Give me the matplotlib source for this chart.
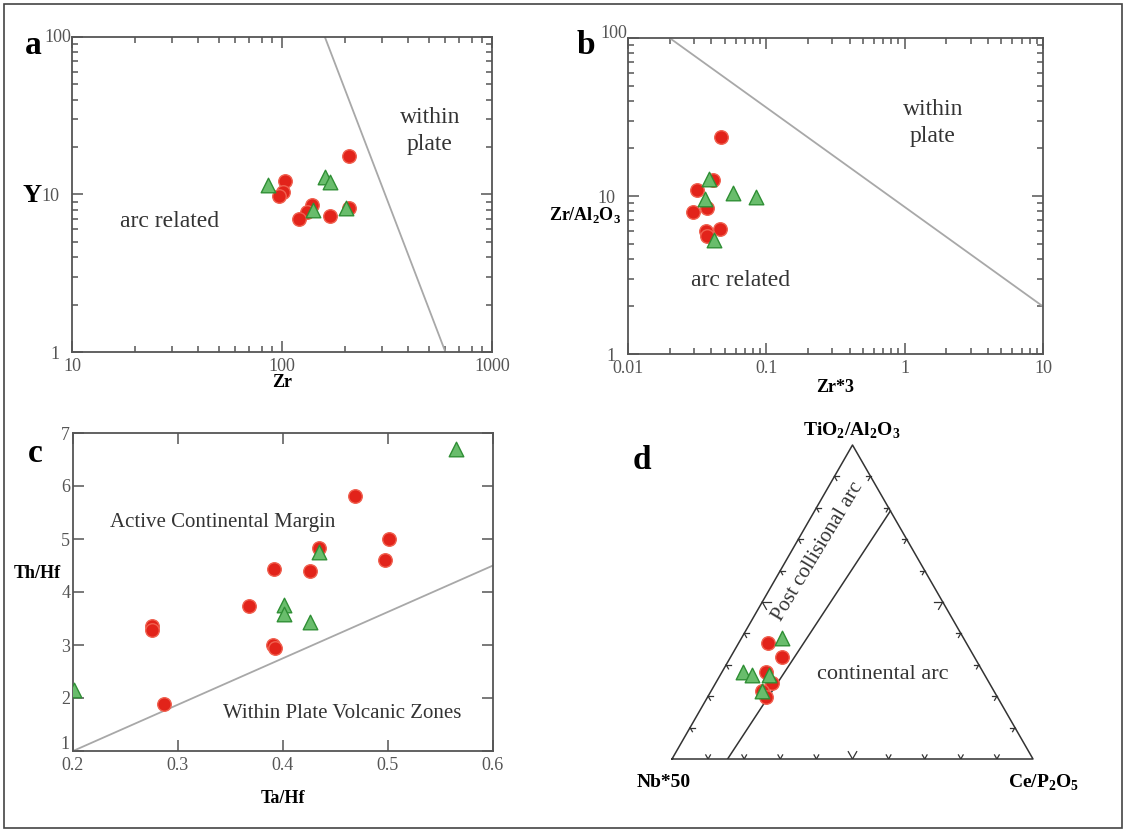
import matplotlib
matplotlib.use('Agg')
import matplotlib.pyplot as plt
import matplotlib.ticker as mticker
import numpy as np

plt.rcParams['font.family'] = 'Liberation Serif'
plt.rcParams['mathtext.fontset'] = 'custom'
plt.rcParams['mathtext.rm'] = 'Liberation Serif'
plt.rcParams['mathtext.bf'] = 'Liberation Serif:bold'

# ---------------- data ----------------
# a: Zr vs Y
a_red_zr = [208, 103, 101, 97, 139, 131, 120, 169, 208]
a_red_y = [17.5, 12.2, 10.4, 9.8, 8.6, 7.7, 7.0, 7.3, 8.2]
a_grn_zr = [86, 160, 169, 141, 201]
a_grn_y = [11.5, 12.9, 12.0, 8.0, 8.2]
a_line_x = [160, 600]
a_line_y = [100, 1]

# b: Zr*3 vs Zr/Al2O3
b_red_x = [0.0468, 0.0414, 0.0314, 0.0297, 0.037, 0.0367, 0.037, 0.0463]
b_red_y = [23.5, 12.6, 10.9, 7.9, 8.4, 6.0, 5.6, 6.2]
b_grn_x = [0.0385, 0.036, 0.0571, 0.0843, 0.0418]
b_grn_y = [12.8, 9.6, 10.4, 9.9, 5.3]
b_line_x = [0.02, 10]
b_line_y = [100, 2]

# c: Ta/Hf vs Th/Hf
c_red_x = [0.4685, 0.501, 0.497, 0.4345, 0.4256, 0.391, 0.368, 0.2757, 0.2757, 0.390, 0.392, 0.2865]
c_red_y = [5.82, 5.0, 4.6, 4.83, 4.4, 4.43, 3.73, 3.35, 3.28, 3.0, 2.95, 1.88]
c_grn_x = [0.5648, 0.2007, 0.401, 0.401, 0.426, 0.4345]
c_grn_y = [6.7, 2.16, 3.75, 3.58, 3.43, 4.75]
c_line_x = [0.2, 0.6]
c_line_y = [1.0, 4.5]

# d: ternary TiO2/Al2O3 (top), Nb*50 (left), Ce/P2O5 (right)
d_red_ti = [0.368, 0.324, 0.276, 0.242, 0.2175, 0.196]
d_red_ce = [0.083, 0.142, 0.1215, 0.157, 0.141, 0.1615]
d_grn_ti = [0.386, 0.276, 0.2687, 0.2687, 0.2153]
d_grn_ce = [0.1126, 0.0596, 0.0864, 0.1343, 0.1425]
d_bound_ti = [0.0, 0.79]
d_bound_ce = [0.154, 0.21]

RED = '#e2231a'
RED_E = '#f0604f'
GRN = '#69bd6c'
GRN_E = '#2f8f35'
FRAME = '#555555'
BLINE = '#a8a8a8'
TICKC = '#555555'

fig = plt.figure(figsize=(11.26, 8.30), dpi=100)


def px(x0, y0, w, h):
    return [x0 / 1126, 1 - (y0 + h) / 830, w / 1126, h / 830]


def style(ax, ypad=3.5):
    for s in ax.spines.values():
        s.set_color(FRAME)
        s.set_linewidth(1.3)
    ax.tick_params(which='both', direction='in', top=True, right=True,
                   color=FRAME, labelcolor=TICKC, labelsize=13, width=1.1)
    ax.tick_params(which='major', length=8)
    ax.tick_params(which='minor', length=4.5)
    ax.tick_params(axis='y', pad=ypad)
    ax.tick_params(axis='x', pad=4.5)


def points(ax, xr, yr, xg, yg):
    ax.scatter(xr, yr, s=95, c=RED, edgecolors=RED_E, linewidths=1.0, zorder=3)
    ax.scatter(xg, yg, s=110, marker='^', c=GRN, edgecolors=GRN_E, linewidths=1.0, zorder=4)


def ylog_label(v, pos):
    # the top "100" sits right against the axis, drawn separately
    return '' if v >= 100 else '%g' % v


def logfmt(ax):
    ax.xaxis.set_major_formatter(mticker.FormatStrFormatter('%g'))
    ax.yaxis.set_major_formatter(mticker.FuncFormatter(ylog_label))
    ax.xaxis.set_minor_formatter(mticker.NullFormatter())
    ax.yaxis.set_minor_formatter(mticker.NullFormatter())


def ftext(x, y, s, **kw):
    fig.text(x / 1126, 1 - y / 830, s, **kw)


# ---- a ----
ax = fig.add_axes(px(72, 37, 420, 315))
ax.set_xscale('log')
ax.set_yscale('log')
ax.set_xlim(10, 1000)
ax.set_ylim(1, 100)
ax.plot(a_line_x, a_line_y, color=BLINE, lw=1.3)
points(ax, a_red_zr, a_red_y, a_grn_zr, a_grn_y)
style(ax, ypad=9)
logfmt(ax)
ax.text(29.3, 6.7, 'arc related', fontsize=17, color='#333333', ha='center', va='center')
ax.text(507, 25.3, 'within\nplate', fontsize=17, color='#333333', ha='center', va='center', linespacing=1.4)
ax.set_xlabel('Zr', fontsize=13, fontweight='bold', labelpad=-1)
ftext(71, 37, '100', fontsize=13, color=TICKC, ha='right', va='center')
ftext(32, 195, 'Y', fontsize=19, fontweight='bold', ha='center', va='center')
ftext(33, 46, 'a', fontsize=24, fontweight='bold', ha='center', va='center')

# ---- b ----
ax = fig.add_axes(px(628, 38, 415, 316))
ax.set_xscale('log')
ax.set_yscale('log')
ax.set_xlim(0.01, 10)
ax.set_ylim(1, 100)
ax.plot(b_line_x, b_line_y, color=BLINE, lw=1.3)
points(ax, b_red_x, b_red_y, b_grn_x, b_grn_y)
style(ax, ypad=9)
logfmt(ax)
ax.text(1.6, 29, 'within\nplate', fontsize=17, color='#333333', ha='center', va='center', linespacing=1.4)
ax.text(0.0646, 2.94, 'arc related', fontsize=17, color='#333333', ha='center', va='center')
ax.set_xlabel('Zr*3', fontsize=13, fontweight='bold', labelpad=1)
ftext(627, 34, '100', fontsize=13, color=TICKC, ha='right', va='center')
ftext(585, 215, r'Zr/Al$_\mathbf{2}$O$_\mathbf{3}$', fontsize=13, fontweight='bold', ha='center', va='center')
ftext(586, 46, 'b', fontsize=24, fontweight='bold', ha='center', va='center')

# ---- c ----
ax = fig.add_axes(px(73, 433, 420, 318))
ax.set_xlim(0.2, 0.6)
ax.set_ylim(1, 7)
ax.plot(c_line_x, c_line_y, color=BLINE, lw=1.3)
points(ax, c_red_x, c_red_y, c_grn_x, c_grn_y)
style(ax, ypad=2)
ax.set_xticks([0.2, 0.3, 0.4, 0.5, 0.6])
ax.set_yticks([1, 2, 3, 4, 5, 6, 7])
ax.xaxis.set_major_formatter(mticker.FormatStrFormatter('%g'))
# bottom "1" is lifted a little above the x labels, drawn separately
ax.yaxis.set_major_formatter(mticker.FuncFormatter(lambda v, p: '' if v <= 1 else '%g' % v))
ftext(70, 744, '1', fontsize=13, color=TICKC, ha='right', va='center')
ax.text(0.3427, 5.32, 'Active Continental Margin', fontsize=15, color='#333333', ha='center', va='center')
ax.text(0.456, 1.71, 'Within Plate Volcanic Zones', fontsize=15, color='#333333', ha='center', va='center')
ax.set_xlabel('Ta/Hf', fontsize=13, fontweight='bold', labelpad=11)
ftext(37, 573, 'Th/Hf', fontsize=13, fontweight='bold', ha='center', va='center')
ftext(35, 453, 'c', fontsize=24, fontweight='bold', ha='center', va='center')

# ---- d (ternary) ----
ax = fig.add_axes(px(672, 445, 361, 314))
h = np.sqrt(3) / 2
ax.set_xlim(0, 1)
ax.set_ylim(0, h)
ax.axis('off')


def tern(ti, ce):
    ti = np.asarray(ti, dtype=float)
    ce = np.asarray(ce, dtype=float)
    return ce + ti / 2, ti * h


ax.plot([0, 1, 0.5, 0], [0, 0, h, 0], color='#333333', lw=1.1, clip_on=False)
bx, by = tern(d_bound_ti, d_bound_ce)
ax.plot(bx, by, color='#333333', lw=1.1)

# inward "v" tick marks on each side
tl = 0.013
left_dir = np.array([0.5, h])
right_dir = np.array([-0.5, h])
for i in range(1, 10):
    f = i / 10
    L = tl * (1.8 if i == 5 else 1.0)
    p = np.array([f, 0.0])
    for d in (left_dir, right_dir):
        q = p + d * L
        ax.plot([p[0], q[0]], [p[1], q[1]], color='#333333', lw=0.9)
    p = np.array([0.5 * f, h * f])
    for d in (np.array([1.0, 0.0]), -right_dir):
        q = p + d * L
        ax.plot([p[0], q[0]], [p[1], q[1]], color='#333333', lw=0.9)
    p = np.array([1 - 0.5 * f, h * f])
    for d in (np.array([-1.0, 0.0]), -left_dir):
        q = p + d * L
        ax.plot([p[0], q[0]], [p[1], q[1]], color='#333333', lw=0.9)

rx, ry = tern(d_red_ti, d_red_ce)
gx, gy = tern(d_grn_ti, d_grn_ce)
points(ax, rx, ry, gx, gy)
ax.text(0.584, 0.233, 'continental arc', fontsize=16, color='#333333', ha='center', va='center')
ax.text(0.404, 0.571, 'Post collisional arc', fontsize=15, color='#333333', ha='center', va='center',
        rotation=59, rotation_mode='anchor')
ax.text(0.4986, 0.905, r'TiO$_\mathbf{2}$/Al$_\mathbf{2}$O$_\mathbf{3}$', fontsize=14, fontweight='bold',
        ha='center', va='center', clip_on=False)
ax.text(-0.022, -0.066, 'Nb*50', fontsize=14, fontweight='bold', ha='center', va='center', clip_on=False)
ax.text(1.03, -0.066, r'Ce/P$_\mathbf{2}$O$_\mathbf{5}$', fontsize=14, fontweight='bold',
        ha='center', va='center', clip_on=False)
ax.text(-0.083, 0.823, 'd', fontsize=24, fontweight='bold', ha='center', va='center', clip_on=False)

# outer frame of the figure
fig.add_artist(plt.Rectangle((4 / 1126, 2 / 830), 1118 / 1126, 824 / 830, transform=fig.transFigure,
                             fill=False, edgecolor='#444444', lw=1.2))

fig.savefig('out.png', dpi=100)
